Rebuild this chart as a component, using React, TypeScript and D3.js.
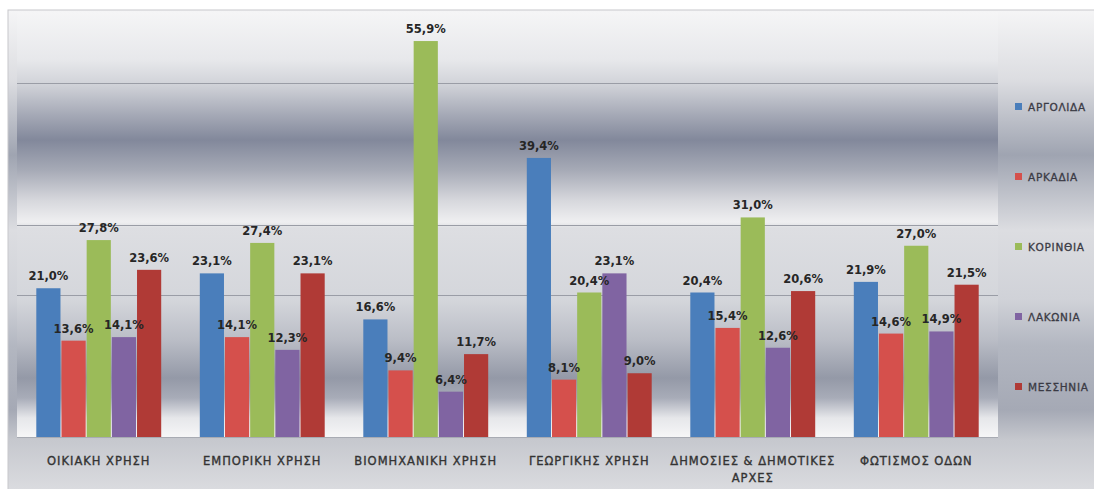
import React from "react";
import * as d3 from "d3";

const categories: string[][] = [
  ["ΟΙΚΙΑΚΗ ΧΡΗΣΗ"],
  ["ΕΜΠΟΡΙΚΗ ΧΡΗΣΗ"],
  ["ΒΙΟΜΗΧΑΝΙΚΗ ΧΡΗΣΗ"],
  ["ΓΕΩΡΓΙΚΗΣ ΧΡΗΣΗ"],
  ["ΔΗΜΟΣΙΕΣ & ΔΗΜΟΤΙΚΕΣ", "ΑΡΧΕΣ"],
  ["ΦΩΤΙΣΜΟΣ ΟΔΩΝ"],
];
const seriesNames = ["ΑΡΓΟΛΙΔΑ", "ΑΡΚΑΔΙΑ", "ΚΟΡΙΝΘΙΑ", "ΛΑΚΩΝΙΑ", "ΜΕΣΣΗΝΙΑ"];
const seriesColors = ["#4a7ebb", "#d5504c", "#9bbb59", "#8064a2", "#b03a36"];
const argolida = [21.0, 23.1, 16.6, 39.4, 20.4, 21.9];
const arkadia = [13.6, 14.1, 9.4, 8.1, 15.4, 14.6];
const korinthia = [27.8, 27.4, 55.9, 20.4, 31.0, 27.0];
const lakonia = [14.1, 12.3, 6.4, 23.1, 12.6, 14.9];
const messinia = [23.6, 23.1, 11.7, 9.0, 20.6, 21.5];
const seriesValues = [argolida, arkadia, korinthia, lakonia, messinia];
const gridTicks = [20, 30, 50];

const W = 1094;
const H = 489;
const plot = { left: 17, right: 998, top: 12, bottom: 437 };

const plotStops: [number, string][] = [
  [12, "#f5f5f6"], [60, "#e7e8eb"], [85, "#d0d2d8"], [115, "#a5a9b6"],
  [140, "#82889b"], [170, "#a6aab6"], [200, "#d6d7dc"], [222, "#efeff1"],
  [228, "#dddee2"], [300, "#d4d6db"], [340, "#babdc6"], [378, "#9499a7"],
  [398, "#a8acb8"], [418, "#e6e7ea"], [437, "#f6f6f7"],
];
const chartStops: [number, string][] = [
  [10, "#f5f5f6"], [80, "#dcdde1"], [155, "#9fa4b1"], [230, "#dcdde1"],
  [300, "#d0d2d8"], [345, "#b3b7c1"], [410, "#a5a9b5"], [440, "#c6c8ce"],
  [489, "#dadbdf"],
];

export default function App() {
  const x0 = d3
    .scaleBand<number>()
    .domain(d3.range(categories.length))
    .range([plot.left, plot.right])
    .paddingInner(0.23)
    .paddingOuter(0.115);
  const x1 = d3
    .scaleBand<number>()
    .domain(d3.range(seriesNames.length))
    .range([0, x0.bandwidth()]);
  const y = d3.scaleLinear().domain([0, 60]).range([plot.bottom, plot.top]);
  const fmt = (v: number) => v.toFixed(1).replace(".", ",") + "%";

  const plotH = plot.bottom - plot.top;
  return (
    <svg width={W} height={H} style={{ display: "block", position: "absolute", left: 0, top: 0 }}>
      <defs>
        <linearGradient id="chartBg" gradientUnits="userSpaceOnUse" x1="0" y1="10" x2="0" y2={H}>
          {chartStops.map(([yy, c], i) => (
            <stop key={i} offset={(yy - 10) / (H - 10)} stopColor={c} />
          ))}
        </linearGradient>
        <linearGradient id="plotBg" gradientUnits="userSpaceOnUse" x1="0" y1={plot.top} x2="0" y2={plot.bottom}>
          {plotStops.map(([yy, c], i) => (
            <stop key={i} offset={(yy - plot.top) / plotH} stopColor={c} />
          ))}
        </linearGradient>
      </defs>
      <rect x={0} y={0} width={W} height={H} fill="#ffffff" />
      <rect x={8} y={10} width={W} height={H} fill="url(#chartBg)" stroke="#c8c8cc" strokeWidth={1} />
      <rect x={plot.left} y={plot.top} width={plot.right - plot.left} height={plotH} fill="url(#plotBg)" />
      {gridTicks.map((t) => (
        <line key={t} x1={plot.left} x2={plot.right} y1={Math.round(y(t)) + 0.5} y2={Math.round(y(t)) + 0.5} stroke="#9a9da6" strokeWidth={1} />
      ))}
      <line x1={plot.left} x2={plot.right} y1={plot.bottom + 0.5} y2={plot.bottom + 0.5} stroke="#a8abb3" />
      {categories.map((cat, ci) => (
        <g key={ci} transform={`translate(${x0(ci)},0)`}>
          {seriesValues.map((vals, si) => (
            <rect
              key={si}
              x={x1(si)! + 0.5}
              y={y(vals[ci])}
              width={x1.bandwidth() - 1}
              height={plot.bottom - y(vals[ci])}
              fill={seriesColors[si]}
            />
          ))}
          {seriesValues.map((vals, si) => (
            <text
              key={"l" + si}
              x={x1(si)! + x1.bandwidth() / 2}
              y={y(vals[ci]) - 8}
              textAnchor="middle"
              fontFamily="DejaVu Sans"
              fontWeight="bold"
              fontSize={11.5}
              fill="#262626"
            >
              {fmt(vals[ci])}
            </text>
          ))}
          {cat.map((line, li) => (
            <text
              key={"c" + li}
              x={x0.bandwidth() / 2}
              y={465 + li * 17}
              textAnchor="middle"
              fontFamily="DejaVu Sans"
              fontSize={11.5}
              letterSpacing={1}
              stroke="#333333"
              strokeWidth={0.35}
              fill="#333333"
            >
              {line}
            </text>
          ))}
        </g>
      ))}
      {seriesNames.map((name, i) => (
        <g key={name} transform={`translate(1015,${107 + i * 70})`}>
          <rect x={0} y={-4} width={7} height={7} fill={seriesColors[i]} />
          <text x={13} y={3.5} fontFamily="DejaVu Sans" fontSize={10.5} letterSpacing={0.7} stroke="#3a3a44" strokeWidth={0.3} fill="#3a3a44">
            {name}
          </text>
        </g>
      ))}
    </svg>
  );
}
